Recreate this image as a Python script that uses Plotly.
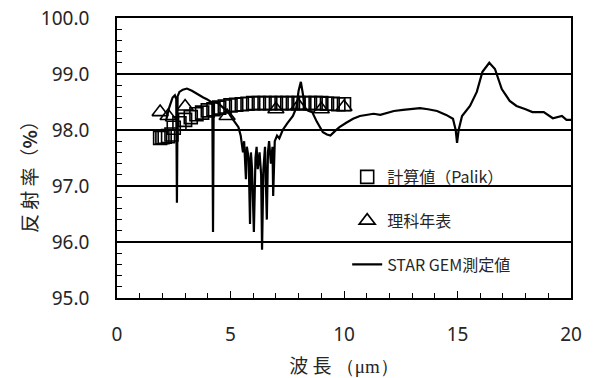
import plotly.graph_objects as go

# --- data -----------------------------------------------------------------
palik_x = [1.9, 2.0, 2.1, 2.25, 2.4, 2.5, 2.75, 3.0, 3.25, 3.5, 3.75,
           4.0, 4.25, 4.5, 4.75, 5.0, 5.25, 5.5, 5.75, 6.0, 6.25,
           6.5, 6.75, 7.0, 7.25, 7.5, 7.75, 8.0, 8.25, 8.5, 8.75,
           9.0, 9.25, 9.5, 9.75, 10.0]
palik_y = [97.86, 97.87, 97.88, 97.89, 97.92, 98.04, 98.12, 98.18, 98.23, 98.28, 98.31,
           98.35, 98.37, 98.40, 98.42, 98.44, 98.45, 98.46, 98.47, 98.48, 98.48,
           98.48, 98.48, 98.48, 98.48, 98.48, 98.48, 98.48, 98.48, 98.48, 98.48,
           98.48, 98.47, 98.47, 98.46, 98.46]

rika_x = [1.9, 2.25, 3.0, 4.85, 7.0, 8.0, 9.0, 10.0]
rika_y = [98.32, 98.25, 98.42, 98.25, 98.37, 98.43, 98.37, 98.41]

gem_x = [2.15, 2.3, 2.45, 2.55, 2.61, 2.64, 2.67, 2.75, 2.9, 3.08, 3.3, 3.57, 3.8, 3.96,
         4.15, 4.2, 4.23, 4.26, 4.3, 4.45, 4.7, 4.9, 5.05, 5.2, 5.35, 5.45,
         5.55, 5.6, 5.68, 5.72, 5.8, 5.86, 5.9, 5.95, 6.03, 6.1, 6.15, 6.2, 6.28,
         6.35, 6.39, 6.45, 6.52, 6.6, 6.65, 6.7, 6.78, 6.85, 6.88, 6.95, 7.05,
         7.15, 7.3, 7.5, 7.75, 7.9, 8.0, 8.1, 8.2, 8.3, 8.45, 8.6, 8.8, 9.07,
         9.25, 9.4, 9.6, 9.8, 10.1, 10.4, 10.7, 11.0, 11.3, 11.6, 11.9, 12.2,
         12.6, 13.0, 13.35, 13.7, 14.1, 14.5, 14.8, 14.92, 14.98, 15.05, 15.2,
         15.55, 15.85, 16.1, 16.4, 16.65, 16.95, 17.3, 17.6, 18.0, 18.3, 18.8,
         19.2, 19.6, 19.8, 20.0]
gem_y = [98.15, 98.40, 98.58, 98.62, 98.55, 96.70, 98.60, 98.68, 98.72, 98.74, 98.70, 98.63, 98.58, 98.55,
         98.50, 98.45, 96.18, 98.48, 98.50, 98.48, 98.40, 98.32, 98.22, 98.14, 98.05, 97.90,
         97.60, 97.80, 97.12, 97.70, 97.50, 96.32, 97.60, 97.30, 96.18, 97.50, 97.70, 97.30, 97.60,
         97.20, 95.86, 97.30, 97.70, 96.40, 97.60, 97.80, 97.40, 97.70, 96.82, 97.80, 97.90,
         97.85, 98.00, 98.12, 98.25, 98.40, 98.70, 98.86, 98.60, 98.37, 98.34, 98.32, 98.15, 97.96,
         97.92, 97.90, 97.98, 98.05, 98.13, 98.20, 98.25, 98.27, 98.29, 98.27, 98.30, 98.34,
         98.36, 98.37, 98.39, 98.37, 98.34, 98.27, 98.20, 98.00, 97.77, 98.00, 98.25,
         98.43, 98.68, 99.04, 99.20, 99.09, 98.73, 98.52, 98.43, 98.37, 98.32, 98.32,
         98.21, 98.25, 98.18, 98.18]

names = ["計算値（Palik）", "理科年表", "STAR GEM測定値"]
y_ticks = [95, 96, 97, 98, 99, 100]
x_ticks = [0, 5, 10, 15, 20]

# --- figure ---------------------------------------------------------------
JP = "Noto Sans CJK JP"
NUM = "Noto Sans"
TXT = "#262626"

fig = go.Figure()
fig.add_trace(go.Scatter(
    x=palik_x, y=palik_y, mode="markers", name=names[0], legendgroup="a",
    marker=dict(symbol="square-open", size=13, color="black", line=dict(width=1.6, color="black")),
))
fig.add_trace(go.Scatter(
    x=rika_x, y=rika_y, mode="markers", name=names[1], legendgroup="b",
    marker=dict(symbol="triangle-up-open", size=14, color="black", line=dict(width=1.6, color="black")),
))
fig.add_trace(go.Scatter(
    x=gem_x, y=gem_y, mode="lines", name=names[2], legendgroup="c",
    line=dict(color="black", width=2.2),
))

# white legend area hiding the gridlines behind it
fig.add_shape(type="rect", xref="paper", yref="paper",
              x0=0.469, x1=0.965, y0=0.03, y1=0.52,
              fillcolor="white", line=dict(width=0), layer="between")

fig.add_annotation(text="反 射 率（<b>%</b>）", xref="paper", yref="paper",
                   x=-0.196, y=0.45, textangle=-90, showarrow=False,
                   xanchor="center", yanchor="middle",
                   font=dict(family=JP, size=19, color=TXT))

fig.update_layout(
    width=596, height=378,
    margin=dict(l=117, r=25, t=18, b=80),
    paper_bgcolor="white", plot_bgcolor="white",
    font=dict(family=JP, color=TXT, size=16),
    showlegend=True,
    legend=dict(
        x=0.507, y=0.493, xanchor="left", yanchor="top",
        bgcolor="rgba(0,0,0,0)", borderwidth=0,
        font=dict(family=JP, size=16, color=TXT),
        tracegroupgap=20, traceorder="grouped",
    ),
    xaxis=dict(
        range=[0, 20], tickmode="array", tickvals=x_ticks, automargin=False,
        ticks="inside", ticklen=7, tickwidth=1.3, tickcolor="black",
        minor=dict(dtick=1, ticks="inside", ticklen=5, tickwidth=1.3, tickcolor="black"),
        showline=True, linecolor="black", linewidth=1.5, mirror=True,
        showgrid=False, zeroline=False,
        tickfont=dict(family=NUM, size=19, color=TXT),
        ticklabelstandoff=18,
        title=dict(text="波 長 <span style=\"font-family:'Liberation Serif'\">（μm）</span>",
                   font=dict(family=JP, size=19, color=TXT), standoff=19),
    ),
    yaxis=dict(
        range=[95, 100], tickmode="array", tickvals=y_ticks, automargin=False,
        tickformat=".1f",
        ticks="inside", ticklen=5, tickwidth=1.3, tickcolor="black",
        minor=dict(dtick=0.2, ticks="inside", ticklen=5, tickwidth=1.3, tickcolor="black"),
        showline=True, linecolor="black", linewidth=1.5, mirror=True,
        showgrid=True, gridcolor="black", gridwidth=1.5, zeroline=False,
        tickfont=dict(family=NUM, size=19, color=TXT),
        ticklabelstandoff=22,
    ),
)

fig.write_html("out.html", config={"displayModeBar": False},
               post_script="document.body.style.margin='0';")
